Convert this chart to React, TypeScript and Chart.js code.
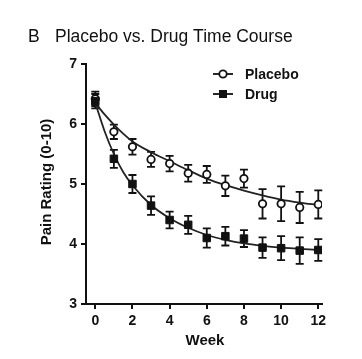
import React, { useEffect, useRef } from "react";
import { Chart, registerables } from "chart.js";

Chart.register(...registerables);

const weeks = [0, 1, 2, 3, 4, 5, 6, 7, 8, 9, 10, 11, 12];
const placeboMean = [6.42, 5.87, 5.62, 5.41, 5.34, 5.18, 5.16, 4.97, 5.09, 4.67, 4.67, 4.61, 4.66];
const placeboErr = [0.12, 0.12, 0.13, 0.125, 0.13, 0.14, 0.14, 0.17, 0.15, 0.245, 0.29, 0.26, 0.235];
const drugMean = [6.38, 5.42, 5.0, 4.64, 4.4, 4.32, 4.1, 4.13, 4.09, 3.94, 3.93, 3.89, 3.9];
const drugErr = [0.12, 0.15, 0.15, 0.155, 0.14, 0.15, 0.16, 0.155, 0.14, 0.17, 0.2, 0.22, 0.18];
const fitWeeks = [0, 0.5, 1, 1.5, 2, 3, 4, 5, 6, 7, 8, 9, 10, 11, 12];
const placeboFit = [6.35, 6.16, 5.99, 5.84, 5.71, 5.53, 5.38, 5.23, 5.09, 4.98, 4.89, 4.81, 4.74, 4.69, 4.65];
const drugFit = [6.35, 5.88, 5.5, 5.2, 4.98, 4.65, 4.43, 4.27, 4.15, 4.07, 4.01, 3.97, 3.94, 3.92, 3.9];

const titleText = "Placebo vs. Drug Time Course";
const panelLetter = "B";
const yTitle = "Pain Rating (0-10)";
const xTitle = "Week";
const legendLabels = ["Placebo", "Drug"];

export default function App() {
  const ref = useRef<HTMLCanvasElement>(null);
  useEffect(() => {
    const canvas = ref.current;
    if (!canvas) return;
    const FONT = "'Liberation Sans', Arial, sans-serif";

    const errorBars = {
      id: "errorBars",
      beforeDatasetsDraw(chart: any) {
        const ctx = chart.ctx;
        const xs = chart.scales.x;
        const ys = chart.scales.y;
        ctx.save();
        ctx.strokeStyle = "#111";
        ctx.lineWidth = 1.8;
        const series = [
          [placeboMean, placeboErr],
          [drugMean, drugErr],
        ];
        series.forEach(([m, e]) => {
          weeks.forEach((w, i) => {
            const x = xs.getPixelForValue(w);
            const yt = ys.getPixelForValue(m[i] + e[i]);
            const yb = ys.getPixelForValue(m[i] - e[i]);
            ctx.beginPath();
            ctx.moveTo(x, yt);
            ctx.lineTo(x, yb);
            ctx.moveTo(x - 4, yt);
            ctx.lineTo(x + 4, yt);
            ctx.moveTo(x - 4, yb);
            ctx.lineTo(x + 4, yb);
            ctx.stroke();
          });
        });
        ctx.restore();
      },
    };

    const texts = {
      id: "texts",
      afterDraw(chart: any) {
        const ctx = chart.ctx;
        ctx.save();
        ctx.fillStyle = "#111";
        ctx.textBaseline = "alphabetic";
        ctx.textAlign = "left";
        ctx.font = `17.5px ${FONT}`;
        ctx.fillText(panelLetter, 28, 42);
        ctx.fillText(titleText, 55, 42);

        ctx.font = `bold 15px ${FONT}`;
        ctx.textAlign = "center";
        ctx.textBaseline = "middle";
        ctx.fillText(xTitle, 205, 341);

        ctx.save();
        ctx.translate(47, 182);
        ctx.rotate(-Math.PI / 2);
        ctx.font = `bold 15px ${FONT}`;
        ctx.fillText(yTitle, 0, 0);
        ctx.restore();

        // legend
        const rows = [74, 94];
        ctx.lineWidth = 1.8;
        ctx.strokeStyle = "#111";
        rows.forEach((y, i) => {
          ctx.beginPath();
          ctx.moveTo(213, y);
          ctx.lineTo(233, y);
          ctx.stroke();
          if (i === 0) {
            ctx.beginPath();
            ctx.arc(223, y, 3.7, 0, Math.PI * 2);
            ctx.fillStyle = "#fff";
            ctx.fill();
            ctx.stroke();
          } else {
            ctx.fillStyle = "#111";
            ctx.fillRect(219, y - 4, 8, 8);
          }
          ctx.fillStyle = "#111";
          ctx.font = `bold 14px ${FONT}`;
          ctx.textAlign = "left";
          ctx.textBaseline = "middle";
          ctx.fillText(legendLabels[i], 245, y + 1);
        });
        ctx.restore();
      },
    };

    const chart = new Chart(canvas, {
      type: "scatter",
      data: {
        datasets: [
          {
            label: "Placebo",
            data: weeks.map((w, i) => ({ x: w, y: placeboMean[i] })),
            showLine: false,
            pointStyle: "circle",
            pointRadius: 3.7,
            pointBorderWidth: 1.8,
            pointBackgroundColor: "#fff",
            pointBorderColor: "#111",
            order: 1,
          },
          {
            label: "Drug",
            data: weeks.map((w, i) => ({ x: w, y: drugMean[i] })),
            showLine: false,
            pointStyle: "rect",
            pointRadius: 5.3,
            pointBorderWidth: 1,
            pointBackgroundColor: "#111",
            pointBorderColor: "#111",
            order: 0,
          },
          {
            label: "Placebo fit",
            data: fitWeeks.map((w, i) => ({ x: w, y: placeboFit[i] })),
            showLine: true,
            pointRadius: 0,
            borderColor: "#222",
            borderWidth: 1.8,
            cubicInterpolationMode: "monotone",
            order: 2,
          },
          {
            label: "Drug fit",
            data: fitWeeks.map((w, i) => ({ x: w, y: drugFit[i] })),
            showLine: true,
            pointRadius: 0,
            borderColor: "#222",
            borderWidth: 1.8,
            cubicInterpolationMode: "monotone",
            order: 2,
          },
        ],
      },
      options: {
        responsive: false,
        animation: false,
        layout: { padding: { top: 64, right: 40, left: 0, bottom: 0 } },
        plugins: { legend: { display: false }, tooltip: { enabled: false }, title: { display: false } },
        scales: {
          x: {
            type: "linear",
            min: -0.5,
            max: 12.2,
            afterFit(scale: any) {
              scale.height = 55;
            },
            ticks: {
              stepSize: 2,
              includeBounds: false,
              color: "#111",
              font: { family: FONT, size: 14, weight: "bold" },
              padding: 4,
              maxRotation: 0,
            },
            grid: {
              drawOnChartArea: false,
              drawTicks: true,
              tickLength: 5,
              color: "#111",
              lineWidth: 2,
            },
            border: { display: true, color: "#111", width: 2 },
          },
          y: {
            type: "linear",
            min: 3,
            max: 7,
            afterFit(scale: any) {
              scale.width = 86;
            },
            ticks: {
              stepSize: 1,
              color: "#111",
              font: { family: FONT, size: 14, weight: "bold" },
              padding: 4,
            },
            grid: {
              drawOnChartArea: false,
              drawTicks: true,
              tickLength: 5,
              color: "#111",
              lineWidth: 2,
            },
            border: { display: true, color: "#111", width: 2 },
          },
        },
      } as any,
      plugins: [errorBars, texts],
    });
    return () => chart.destroy();
  }, []);

  return (
    <div style={{ position: "fixed", left: 0, top: 0, width: 362, height: 359, background: "#fff" }}>
      <canvas ref={ref} width={362} height={359} style={{ display: "block" }} />
    </div>
  );
}
